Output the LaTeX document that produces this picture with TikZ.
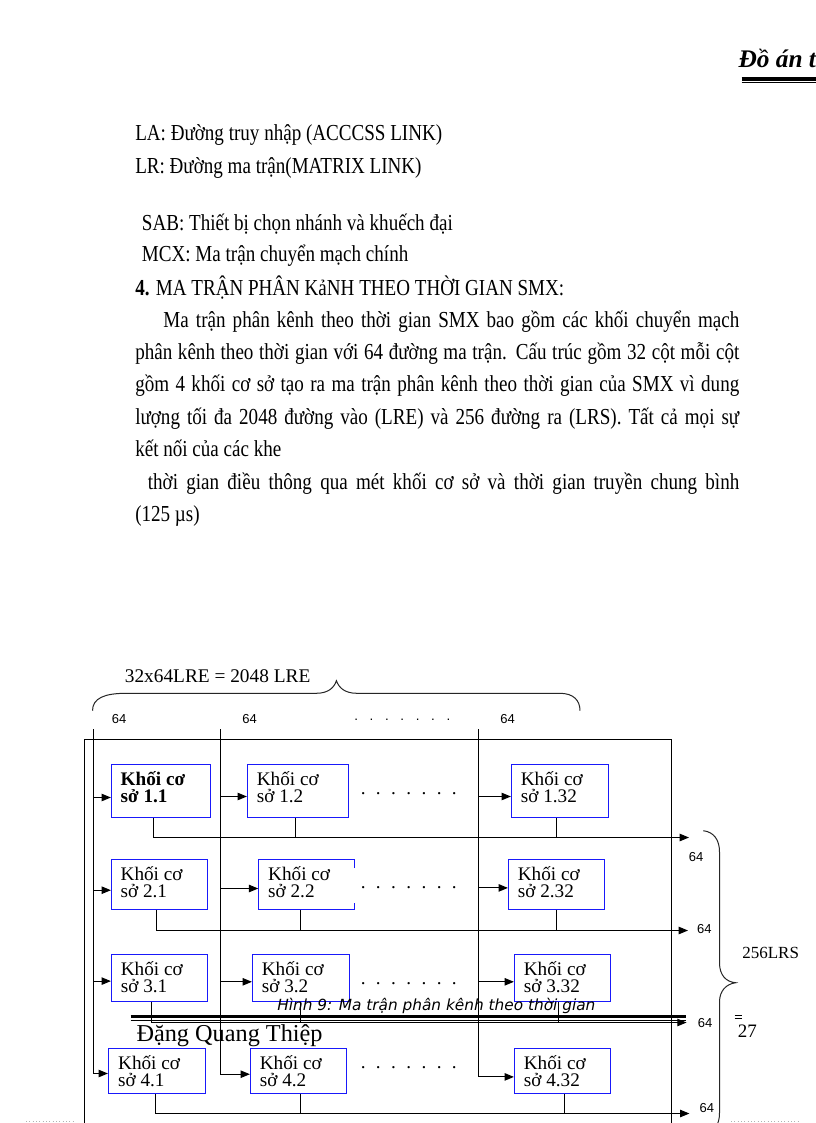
\documentclass[tikz,border=0pt]{standalone}
\usepackage{fontspec}
\setmainfont{Liberation Serif}
\newfontfamily\sansf{Liberation Sans}
\newfontfamily\dejav{DejaVu Sans}
\usepackage{graphicx}
\usetikzlibrary{arrows.meta,calc,fit}
\definecolor{kblue}{RGB}{25,25,250}
\newcommand\bodyfont{\fontsize{14.3}{16}\selectfont}
\newcommand\bodyline[1]{\scalebox{1}[1.2]{#1}}
\newcommand\jline[2]{\scalebox{1}[1.2]{\makebox[#1][s]{#2}}}
\newcommand\boxfont{\fontsize{14.4}{12.8}\selectfont}
\newcommand\boxtwo[2]{\parbox[t]{90pt}{\boxfont #1\\#2}}
\begin{document}
\begin{tikzpicture}[x=0.75pt,y=-0.75pt,
  ln/.style={line width=0.75pt,black},
  arr/.style={ln,-{Triangle[length=7pt,width=5.6pt]}},
  kb/.style={draw=kblue,line width=0.9pt,inner sep=0pt},
  kbl/.style={draw=kblue,line width=0.9pt},
  txt/.style={inner sep=0pt,anchor=base west},
  lab/.style={inner sep=0pt,font=\sansf\fontsize{9.75}{10}\selectfont},
  brc/.style={line width=0.75pt,black!85}]
\useasboundingbox (0,0) rectangle (816,1123);
\clip (0,0) rectangle (816,1123);
\fill[white] (0,0) rectangle (816,1123);

% header
\node[txt] (hdr) at (738.3,67.7) {\fontsize{19}{19}\selectfont\bfseries\itshape Đồ án tốt nghiệp};
\draw[line width=2.6pt] (741.7,79) -- (816,79);
\draw[line width=0.9pt] (741.7,82.8) -- (816,82.8);

% body text
\node[txt] (la) at (135,141) {\bodyfont\bodyline{LA: Đường truy nhập (ACCCSS LINK)}};
\node[txt] (lr) at (135,173.3) {\bodyfont\bodyline{LR: Đường ma trận(MATRIX LINK)}};
\node[txt] (sab) at (141.7,230) {\bodyfont\bodyline{SAB: Thiết bị chọn nhánh và khuếch đại}};
\node[txt] (mcx) at (141.7,261.5) {\bodyfont\bodyline{MCX: Ma trận chuyển mạch chính}};
\node[txt] (h4) at (135,295) {\bodyfont\bodyline{\textbf{4.} MA TRẬN PHÂN KảNH THEO THỜI GIAN SMX:}};
\node[txt] (p1) at (163.2,327.3) {\bodyfont\jline{431.85pt}{Ma trận phân kênh theo thời gian SMX bao gồm các khối chuyển mạch}};
\node[txt] (p2) at (135,359.3) {\bodyfont\jline{453pt}{phân kênh theo thời gian với 64 đường ma trận. Cấu trúc gồm 32 cột mỗi cột}};
\node[txt] (p3) at (135,391.7) {\bodyfont\jline{453pt}{gồm 4 khối cơ sở tạo ra ma trận phân kênh theo thời gian của SMX vì dung}};
\node[txt] (p4) at (135,424.3) {\bodyfont\jline{453pt}{lượng tối đa 2048 đường vào (LRE) và 256 đường ra (LRS). Tất cả mọi sự}};
\node[txt] (p5) at (135,456.3) {\bodyfont\bodyline{kết nối của các khe}};
\node[txt] (p6) at (147.6,489) {\bodyfont\jline{443.55pt}{thời gian điều thông qua mét khối cơ sở và thời gian truyền chung bình}};
\node[txt] (p7) at (135,521.5) {\bodyfont\bodyline{(125 µs)}};

% top brace and labels
\node[txt] (tot) at (124.6,682.3) {\fontsize{14.5}{15}\selectfont 32x64LRE = 2048 LRE};
\draw[brc] (92.5,710.7) .. controls (92.5,698) and (105,693.3) .. (126,693.3) -- (316,693.3)
  .. controls (328,693.3) and (334,688) .. (336.4,680.7)
  .. controls (339,688) and (345,693.3) .. (357,693.3) -- (560,693.3)
  .. controls (573,693.3) and (580,700) .. (580,710.7);
\node[lab] (c1) at (119.2,719.3) {64};
\node[lab] (c2) at (249.6,719.3) {64};
\node[lab] (c3) at (507.6,719.3) {64};
\node[txt] (cd) at (354,720.5) {\sansf\fontsize{10}{10}\selectfont\makebox[72pt][s]{. . . . . . .}};

% frame
\draw[ln] (84.5,1130) -- (84.5,739.5) -- (671.5,739.5) -- (671.5,1130);

% boxes
\node[kb, fit={(111.5,764.5) (210.5,817.5)}] (b11) {};
\node[kb, fit={(247.5,764.5) (348.5,817.5)}] (b12) {};
\node[kb, fit={(511.5,764.5) (608.5,817.5)}] (b1n) {};
\node[kb, fit={(111.5,859.5) (207.5,909.5)}] (b21) {};
\node[inner sep=0pt, fit={(258.5,859.5) (354.5,909.5)}] (b22) {};
\draw[kbl] ($(b22.north east)+(0,9)$) -- (b22.north east) -- (b22.north west) -- (b22.south west) -- (b22.south east) -- ($(b22.south east)+(0,-6.7)$);
\node[kb, fit={(508.5,859.5) (604.5,909.5)}] (b2n) {};
\node[kb, fit={(111.5,954.5) (207.5,1001.5)}] (b31) {};
\node[kb, fit={(252.5,954.5) (349.5,1001.5)}] (b32) {};
\node[kb, fit={(514.5,954.5) (610.5,1001.5)}] (b3n) {};
\node[kb, fit={(108.5,1048.5) (205.5,1093.5)}] (b41) {};
\node[kb, fit={(250.5,1048.5) (346.5,1093.5)}] (b42) {};
\node[kb, fit={(514.5,1048.5) (610.5,1093.5)}] (b4n) {};

% box texts
\node[txt] (t11) at ($(b11.north west)+(9.5,21.3)$) {\boxtwo{\bfseries Khối cơ}{\bfseries sở 1.1}};
\node[txt] (t12) at ($(b12.north west)+(9.7,21.3)$) {\boxtwo{Khối cơ}{sở 1.2}};
\node[txt] (t1n) at ($(b1n.north west)+(9.7,21.3)$) {\boxtwo{Khối cơ}{sở 1.32}};
\node[txt] (t21) at ($(b21.north west)+(9.5,21.3)$) {\boxtwo{Khối cơ}{sở 2.1}};
\node[txt] (t22) at ($(b22.north west)+(9.7,21.3)$) {\boxtwo{Khối cơ}{sở 2.2}};
\node[txt] (t2n) at ($(b2n.north west)+(9.7,21.3)$) {\boxtwo{Khối cơ}{sở 2.32}};
\node[txt] (t31) at ($(b31.north west)+(9.7,21.3)$) {\boxtwo{Khối cơ}{sở 3.1}};
\node[txt] (t32) at ($(b32.north west)+(9.7,21.3)$) {\boxtwo{Khối cơ}{sở 3.2}};
\node[txt] (t3n) at ($(b3n.north west)+(9.7,21.3)$) {\boxtwo{Khối cơ}{sở 3.32}};
\node[txt] (t41) at ($(b41.north west)+(10,21.3)$) {\boxtwo{Khối cơ}{sở 4.1}};
\node[txt] (t42) at ($(b42.north west)+(9.7,21.3)$) {\boxtwo{Khối cơ}{sở 4.2}};
\node[txt] (t4n) at ($(b4n.north west)+(9.7,21.3)$) {\boxtwo{Khối cơ}{sở 4.32}};

% dots between columns
\node[txt] (r1d) at (360.5,794) {\boxfont\makebox[72pt][s]{. . . . . . .}};
\node[txt] (r2d) at (360.5,888) {\boxfont\makebox[72pt][s]{. . . . . . .}};
\node[txt] (r3d) at (360.5,984) {\boxfont\makebox[72pt][s]{. . . . . . .}};
\node[txt] (r4d) at (360.5,1068) {\boxfont\makebox[72pt][s]{. . . . . . .}};

% input entry points
\coordinate (i11) at ($(b11.west)+(0,6.5)$);
\coordinate (i12) at ($(b12.west)+(0,5.5)$);
\coordinate (i1n) at ($(b1n.west)+(0,5.5)$);
\coordinate (i21) at ($(b21.west)+(0,5.7)$);
\coordinate (i22) at ($(b22.west)+(0,4)$);
\coordinate (i2n) at ($(b2n.west)+(0,3.4)$);
\coordinate (i31) at ($(b31.west)+(0,3.1)$);
\coordinate (i32) at ($(b32.west)+(0,3.8)$);
\coordinate (i3n) at ($(b3n.west)+(0,3.8)$);
\coordinate (i41) at ($(b41.west)+(0,2.5)$);
\coordinate (i42) at ($(b42.west)+(0,3.2)$);
\coordinate (i4n) at ($(b4n.west)+(0,5.9)$);

% input lines
\coordinate (v1) at (93.5,729);
\coordinate (v2) at (220.5,729);
\coordinate (v3) at (478.5,729);
\draw[arr] (v1) -- (v1 |- i41) -- (i41);
\draw[arr] (v2) -- (v2 |- i42) -- (i42);
\draw[arr] (v3) -- (v3 |- i4n) -- (i4n);
\draw[arr] (v1 |- i11) -- (i11);
\draw[arr] (v2 |- i12) -- (i12);
\draw[arr] (v3 |- i1n) -- (i1n);
\draw[arr] (v1 |- i21) -- (i21);
\draw[arr] (v2 |- i22) -- (i22);
\draw[arr] (v3 |- i2n) -- (i2n);
\draw[arr] (v1 |- i31) -- (i31);
\draw[arr] (v2 |- i32) -- (i32);
\draw[arr] (v3 |- i3n) -- (i3n);

% output buses
\coordinate (d11) at (153.5,837.5); \coordinate (d12) at (295.5,837.5); \coordinate (d1n) at (556.5,837.5); \coordinate (e1) at (689,837.5);
\coordinate (d21) at (156.5,930.5); \coordinate (d22) at (300.5,930.5); \coordinate (d2n) at (556.5,930.5); \coordinate (e2) at (688,930.5);
\coordinate (d31) at (151.5,1022.5); \coordinate (d32) at (300.5,1022.5); \coordinate (d3n) at (558.5,1022.5); \coordinate (e3) at (686.6,1022.5);
\coordinate (d41) at (155.5,1113.5); \coordinate (d42) at (300.5,1113.5); \coordinate (d4n) at (564.5,1113.5); \coordinate (e4) at (689.4,1113.5);
\draw[arr] (b11.south -| d11) -- (d11) -- (e1);
\draw[ln] (b12.south -| d12) -- (d12);
\draw[ln] (b1n.south -| d1n) -- (d1n);
\draw[arr] (b21.south -| d21) -- (d21) -- (e2);
\draw[ln] (b22.south -| d22) -- (d22);
\draw[ln] (b2n.south -| d2n) -- (d2n);
\draw[arr] (b31.south -| d31) -- (d31) -- (e3);
\draw[ln] (b32.south -| d32) -- (d32);
\draw[ln] (b3n.south -| d3n) -- (d3n);
\draw[arr] (b41.south -| d41) -- (d41) -- (e4);
\draw[ln] (b42.south -| d42) -- (d42);
\draw[ln] (b4n.south -| d4n) -- (d4n);

% right labels and brace
\node[lab] (o1) at (696,856.7) {64};
\node[lab] (o2) at (704.4,929.3) {64};
\node[lab] (o3) at (705,1023.3) {64};
\node[lab] (o4) at (706.8,1108.3) {64};
\draw[brc] (703.3,830.7) .. controls (714,832) and (719.5,840) .. (719.5,852) -- (719.5,963)
  .. controls (719.5,975) and (726,982) .. (735.7,982.7)
  .. controls (726,984) and (719.5,991) .. (719.5,1002) -- (719.5,1113)
  .. controls (719.5,1125) and (714,1133) .. (703.3,1134.7);
\node[txt] (lrs) at (742,958) {\fontsize{12.75}{13}\selectfont 256LRS};

% footer overlay
\node[txt] (cap) at (277,1010) {\dejav\itshape\fontsize{11.5}{12}\selectfont Hình 9: Ma trận phân kênh theo thời gian};
\draw[line width=2.2pt] (130.7,1016.7) -- (686,1016.7);
\draw[line width=0.75pt] (130.7,1020.5) -- (686,1020.5);
\node[txt] (auth) at (136.3,1041.7) {\fontsize{18.2}{19}\selectfont Đặng Quang Thiệp};
\node[txt] (pg) at (737.5,1037) {\fontsize{14.25}{15}\selectfont 27};
\draw[line width=1.1pt] (734.5,1015.5) -- (741.5,1015.5);
\draw[line width=0.7pt] (734.5,1018.5) -- (741.5,1018.5);
\draw[gray!60,dotted,line width=0.5pt] (26,1121.5) -- (75,1121.5);
\draw[gray!60,dotted,line width=0.5pt] (731,1121.5) -- (800,1121.5);
\end{tikzpicture}
\end{document}
